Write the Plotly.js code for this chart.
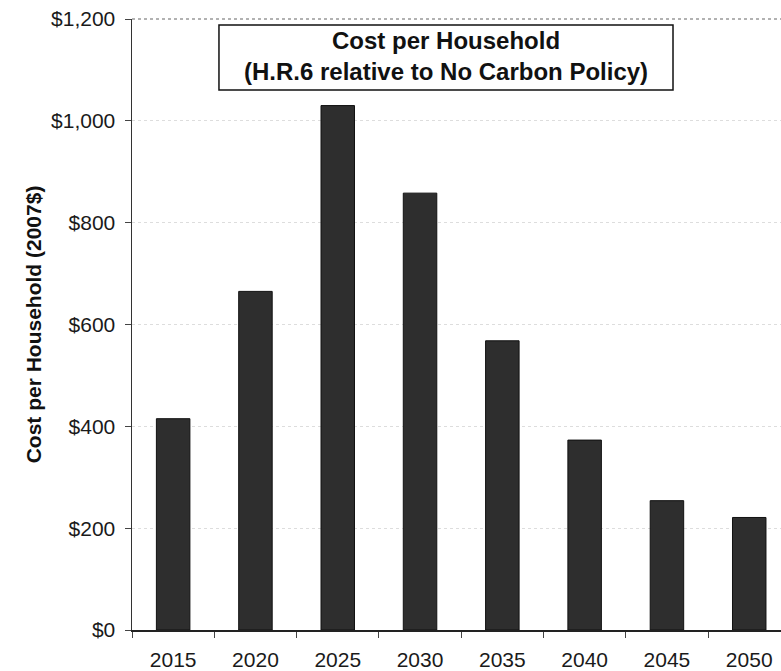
<!DOCTYPE html>
<html>
<head>
<meta charset="utf-8">
<script src="https://cdn.plot.ly/plotly-3.0.1.min.js"></script>
<style>html,body{margin:0;padding:0;background:#fff;}#chart{width:781px;height:671px;}</style>
</head>
<body>
<div id="chart"></div>
<script>
const years = ['2015', '2020', '2025', '2030', '2035', '2040', '2045', '2050'];
const costPerHousehold = [415, 665, 1030, 858, 568, 373, 254, 221];
const yTickValues = [0, 200, 400, 600, 800, 1000, 1200];
const yTickLabels = ['$0', '$200', '$400', '$600', '$800', '$1,000', '$1,200'];
const chartTitleLines = ['Cost per Household', '(H.R.6 relative to No Carbon Policy)'];
const yAxisTitle = 'Cost per Household (2007$)';

const font = 'Arial, "Liberation Sans", sans-serif';

const trace = {
  type: 'bar',
  x: years,
  y: costPerHousehold,
  marker: { color: '#2e2e2e', line: { color: '#111', width: 1 } },
  hoverinfo: 'x+y'
};

const layout = {
  width: 781,
  height: 671,
  margin: { l: 132, r: 0, t: 19, b: 41, pad: 0 },
  paper_bgcolor: '#ffffff',
  plot_bgcolor: '#ffffff',
  showlegend: false,
  bargap: 0.593,
  font: { family: font, color: '#111', size: 21 },
  xaxis: {
    type: 'category',
    range: [-0.5, 7.386],
    showline: true,
    linecolor: '#222',
    linewidth: 1.5,
    ticks: 'outside',
    tickson: 'boundaries',
    ticklen: 6,
    tickcolor: '#444',
    tickwidth: 1,
    showgrid: false,
    tickfont: { family: font, size: 21, color: '#1a1a1a' },
    ticklabelstandoff: 10,
    automargin: false
  },
  yaxis: {
    range: [0, 1200],
    tickmode: 'array',
    tickvals: yTickValues,
    ticktext: yTickLabels,
    showline: true,
    linecolor: '#333',
    linewidth: 1.5,
    ticks: 'outside',
    ticklen: 6,
    tickcolor: '#444',
    tickwidth: 1,
    showgrid: true,
    gridcolor: '#dddddd',
    griddash: 'dot',
    gridwidth: 1,
    zeroline: false,
    tickfont: { family: font, size: 21, color: '#1a1a1a' },
    ticklabelstandoff: 5,
    automargin: false,
    title: {
      text: '<b>' + yAxisTitle + '</b>',
      font: { family: font, size: 21, color: '#111' },
      standoff: 3
    }
  },
  shapes: [
    { type: 'line', xref: 'paper', yref: 'paper', x0: 0, x1: 1, y0: 1, y1: 1,
      line: { color: '#999', width: 1.5, dash: 'dot' } },
    { type: 'rect', xref: 'paper', yref: 'paper', x0: 0.134, x1: 0.8336, y0: 0.8838, y1: 0.990,
      fillcolor: '#ffffff', line: { color: '#111', width: 1.5 }, layer: 'above' }
  ],
  annotations: [
    {
      xref: 'paper', yref: 'paper', x: 0.4838, y: 0.939,
      xanchor: 'center', yanchor: 'middle',
      text: '<b>' + chartTitleLines.join('<br>') + '</b>',
      showarrow: false,
      font: { family: font, size: 24, color: '#111' }
    }
  ]
};

Plotly.newPlot('chart', [trace], layout, { displayModeBar: false, staticPlot: true });
</script>
</body>
</html>
